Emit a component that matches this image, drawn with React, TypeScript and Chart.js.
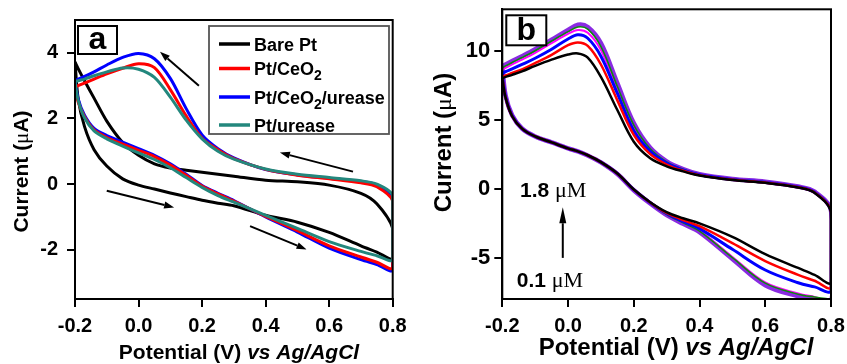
import React, { useEffect, useRef } from "react";
import { Chart, registerables } from "chart.js";

Chart.register(...registerables);

// ---------- Panel (a) data ----------
const potentialA = [-0.2, -0.19, -0.17, -0.14, -0.1, -0.05, 0, 0.05, 0.1, 0.15, 0.2, 0.25, 0.3, 0.4, 0.5, 0.6, 0.7, 0.75, 0.8];
const barePtForward = [3.72, 2.6, 1.75, 1.05, 0.55, 0.16, -0.03, -0.15, -0.27, -0.38, -0.49, -0.58, -0.66, -0.95, -1.16, -1.47, -1.88, -2.07, -2.27];
const barePtReverse = [3.72, 3.52, 3.15, 2.62, 1.92, 1.27, 0.88, 0.62, 0.49, 0.42, 0.36, 0.3, 0.24, 0.12, 0.07, -0.03, -0.28, -0.6, -1.35];
const ceo2Forward = [2.95, 2.5, 2.05, 1.65, 1.42, 1.22, 1.03, 0.84, 0.58, 0.27, -0.06, -0.3, -0.52, -0.98, -1.42, -1.88, -2.22, -2.38, -2.55];
const ceo2Reverse = [2.95, 3.0, 3.08, 3.2, 3.36, 3.53, 3.67, 3.55, 2.88, 2.08, 1.4, 1.05, 0.78, 0.45, 0.27, 0.16, 0.04, -0.08, -0.52];
const ceo2UreaseForward = [3.15, 2.6, 2.1, 1.7, 1.48, 1.28, 1.08, 0.88, 0.62, 0.3, -0.04, -0.28, -0.5, -1.0, -1.46, -1.95, -2.3, -2.45, -2.62];
const ceo2UreaseReverse = [3.15, 3.2, 3.28, 3.42, 3.63, 3.86, 3.98, 3.82, 3.22, 2.3, 1.5, 1.08, 0.8, 0.44, 0.28, 0.18, 0.08, -0.03, -0.5];
const ureaseForward = [3.12, 2.55, 2.02, 1.62, 1.38, 1.16, 0.95, 0.75, 0.5, 0.2, -0.1, -0.35, -0.55, -0.95, -1.35, -1.75, -2.05, -2.18, -2.3];
const ureaseReverse = [3.12, 3.15, 3.2, 3.3, 3.42, 3.54, 3.5, 3.25, 2.65, 1.95, 1.38, 1.0, 0.76, 0.46, 0.3, 0.2, 0.1, 0.0, -0.35];
const legendLabelsA = ["Bare Pt", "Pt/CeO_2", "Pt/CeO_2/urease", "Pt/urease"];
const colorsA = ["#000000", "#ff0000", "#0000ff", "#23877d"];
// arrows: [tailX, tailY, headX, headY] in data units
const arrowsA = [
  [0.19, 3.0, 0.0675, 4.03],
  [0.675, 0.38, 0.445, 0.96],
  [-0.1, -0.2, 0.112, -0.71],
  [0.351, -1.28, 0.529, -1.99],
];

// ---------- Panel (b) data ----------
const potentialB = [-0.2, -0.19, -0.17, -0.14, -0.1, -0.05, 0, 0.03, 0.06, 0.1, 0.15, 0.2, 0.25, 0.3, 0.35, 0.4, 0.5, 0.6, 0.7, 0.75, 0.8];
const c01Forward = [8.0, 6.6, 5.25, 4.35, 3.78, 3.35, 2.92, 2.7, 2.42, 1.92, 1.1, -0.06, -0.98, -1.7, -2.15, -2.52, -3.5, -4.75, -5.75, -6.25, -6.8];
const c01Reverse = [8.0, 8.1, 8.25, 8.5, 8.9, 9.35, 9.72, 9.8, 9.5, 8.1, 5.7, 3.4, 2.2, 1.62, 1.25, 0.95, 0.62, 0.42, 0.08, -0.3, -1.72];
const c02Forward = [8.1, 6.6, 5.25, 4.35, 3.78, 3.35, 2.92, 2.7, 2.42, 1.92, 1.1, -0.07, -1.0, -1.76, -2.28, -2.72, -3.95, -5.25, -6.25, -6.68, -7.15];
const c02Reverse = [8.1, 8.2, 8.38, 8.65, 9.1, 9.7, 10.4, 10.6, 10.35, 9.0, 6.4, 3.9, 2.5, 1.75, 1.3, 0.98, 0.64, 0.44, 0.1, -0.28, -1.68];
const c03Forward = [8.35, 6.65, 5.28, 4.35, 3.78, 3.35, 2.92, 2.7, 2.42, 1.92, 1.1, -0.08, -1.02, -1.8, -2.38, -2.9, -4.4, -5.9, -6.82, -7.12, -7.4];
const c03Reverse = [8.35, 8.48, 8.68, 9.0, 9.45, 10.1, 10.85, 11.15, 10.9, 9.6, 6.9, 4.2, 2.7, 1.85, 1.35, 1.0, 0.66, 0.46, 0.12, -0.26, -1.65];
const c04Forward = [8.6, 6.7, 5.3, 4.36, 3.78, 3.35, 2.92, 2.7, 2.42, 1.92, 1.09, -0.1, -1.04, -1.86, -2.45, -3.05, -4.95, -6.8, -7.6, -7.85, -8.1];
const c04Reverse = [8.6, 8.75, 9.0, 9.35, 9.85, 10.55, 11.22, 11.5, 11.3, 10.05, 7.2, 4.45, 2.82, 1.9, 1.38, 1.02, 0.68, 0.47, 0.13, -0.25, -1.62];
const c05Forward = [8.75, 6.7, 5.3, 4.36, 3.78, 3.35, 2.92, 2.7, 2.42, 1.92, 1.08, -0.1, -1.05, -1.88, -2.48, -3.08, -5.0, -6.85, -7.65, -7.85, -8.0];
const c05Reverse = [8.75, 8.9, 9.15, 9.5, 10.0, 10.7, 11.38, 11.72, 11.56, 10.3, 7.4, 4.6, 2.88, 1.94, 1.4, 1.03, 0.69, 0.48, 0.14, -0.24, -1.6];
const c06Forward = [8.85, 6.75, 5.32, 4.36, 3.78, 3.35, 2.92, 2.7, 2.4, 1.9, 1.06, -0.12, -1.08, -1.92, -2.55, -3.15, -5.1, -7.0, -7.8, -8.05, -8.3];
const c06Reverse = [8.85, 9.0, 9.25, 9.6, 10.1, 10.8, 11.5, 11.88, 11.72, 10.55, 7.65, 4.75, 2.96, 1.98, 1.42, 1.05, 0.7, 0.5, 0.15, -0.22, -1.6];
const colorsB = ["#000000", "#ff0000", "#0000ff", "#ff00ff", "#0b8a0b", "#8a2be2"];
const widthsB = [2.5, 2.5, 3, 2, 1.6, 4.5];
const arrowB = [-0.016, -5.02, -0.016, -1.35];
const concLabelHigh = { x: -0.146, y: -0.58, num: "1.8 ", unit: "\u03bcM" };
const concLabelLow = { x: -0.156, y: -7.1, num: "0.1 ", unit: "\u03bcM" };

const xTicks = [-0.2, 0, 0.2, 0.4, 0.6, 0.8];
const yTicksA = [-2, 0, 2, 4];
const yTicksB = [-5, 0, 5, 10];

const SANS = "'Liberation Sans', Arial, Helvetica, sans-serif";
const SERIF = "'Liberation Serif', 'Times New Roman', serif";

type Seg = { text: string; font: string; dy?: number };

function loop(pot: number[], fwd: number[], rev: number[]) {
  const pts = pot.map((x, i) => ({ x, y: fwd[i] }));
  for (let i = pot.length - 1; i >= 0; i--) pts.push({ x: pot[i], y: rev[i] });
  return pts;
}

function segWidth(ctx: CanvasRenderingContext2D, segs: Seg[]) {
  let w = 0;
  segs.forEach((s) => {
    ctx.font = s.font;
    w += ctx.measureText(s.text).width;
  });
  return w;
}

function drawSegs(ctx: CanvasRenderingContext2D, segs: Seg[], x: number, y: number, center: boolean) {
  let cx = center ? x - segWidth(ctx, segs) / 2 : x;
  ctx.textAlign = "left";
  ctx.textBaseline = "alphabetic";
  ctx.fillStyle = "#000";
  segs.forEach((s) => {
    ctx.font = s.font;
    ctx.fillText(s.text, cx, y + (s.dy || 0));
    cx += ctx.measureText(s.text).width;
  });
}

function parseSub(label: string, size: number): Seg[] {
  const parts = label.split(/_(\d)/);
  return parts
    .map((p, i) =>
      i % 2 === 1
        ? { text: p, font: `bold ${Math.round(size * 0.75)}px ${SANS}`, dy: 5 }
        : { text: p, font: `bold ${size}px ${SANS}` }
    )
    .filter((s) => s.text.length > 0);
}

function drawArrow(ctx: CanvasRenderingContext2D, x1: number, y1: number, x2: number, y2: number, lw: number, hl: number, hw: number) {
  const ang = Math.atan2(y2 - y1, x2 - x1);
  const bx = x2 - Math.cos(ang) * hl;
  const by = y2 - Math.sin(ang) * hl;
  ctx.strokeStyle = "#000";
  ctx.fillStyle = "#000";
  ctx.lineWidth = lw;
  ctx.beginPath();
  ctx.moveTo(x1, y1);
  ctx.lineTo(bx, by);
  ctx.stroke();
  ctx.beginPath();
  ctx.moveTo(x2, y2);
  ctx.lineTo(bx + Math.sin(ang) * hw, by - Math.cos(ang) * hw);
  ctx.lineTo(bx - Math.sin(ang) * hw, by + Math.cos(ang) * hw);
  ctx.closePath();
  ctx.fill();
}

function drawFrame(chart: any) {
  const { ctx, chartArea: a } = chart;
  ctx.save();
  ctx.strokeStyle = "#000";
  ctx.lineWidth = 2;
  ctx.strokeRect(a.left, a.top, a.right - a.left, a.bottom - a.top);
  ctx.restore();
}

function drawPanelLabel(ctx: CanvasRenderingContext2D, x: number, y: number, w: number, h: number, text: string) {
  ctx.save();
  ctx.fillStyle = "#fff";
  ctx.fillRect(x, y, w, h);
  ctx.strokeStyle = "#000";
  ctx.lineWidth = 2;
  ctx.strokeRect(x, y, w, h);
  ctx.fillStyle = "#000";
  ctx.font = `bold 32px ${SANS}`;
  ctx.textAlign = "center";
  ctx.textBaseline = "alphabetic";
  ctx.fillText(text, x + w / 2, y + h - 5);
  ctx.restore();
}

function drawYTitle(ctx: CanvasRenderingContext2D, cx: number, cy: number, size: number) {
  ctx.save();
  ctx.translate(cx, cy);
  ctx.rotate(-Math.PI / 2);
  drawSegs(
    ctx,
    [
      { text: "Current (", font: `bold ${size}px ${SANS}` },
      { text: "\u03bc", font: `${size}px ${SERIF}` },
      { text: "A)", font: `bold ${size}px ${SANS}` },
    ],
    0,
    0,
    true
  );
  ctx.restore();
}

function drawXTitle(ctx: CanvasRenderingContext2D, cx: number, baseline: number, size: number) {
  drawSegs(
    ctx,
    [
      { text: "Potential (V) ", font: `bold ${size}px ${SANS}` },
      { text: "vs Ag/AgCl", font: `italic bold ${size}px ${SANS}` },
    ],
    cx,
    baseline,
    true
  );
}

function scales(yMin: number, yMax: number, yTicks: number[], yWidth: number, xHeight: number, yPad: number, xFont: number, yFont: number) {
  const grid = {
    drawOnChartArea: false,
    drawTicks: true,
    tickLength: 8,
    tickWidth: 2,
    tickColor: "#000",
    color: "#000",
    lineWidth: 2,
  };
  return {
    x: {
      type: "linear" as const,
      min: -0.2,
      max: 0.8,
      afterBuildTicks: (s: any) => {
        s.ticks = xTicks.map((v) => ({ value: v }));
      },
      afterFit: (s: any) => {
        s.height = xHeight;
        s.paddingLeft = 0;
        s.paddingRight = 0;
      },
      ticks: {
        callback: (v: any) => Number(v).toFixed(1),
        font: { family: SANS, size: xFont, weight: "bold" as const },
        color: "#000",
        padding: 7,
        maxRotation: 0,
        autoSkip: false,
      },
      grid,
      border: { display: true, color: "#000", width: 2 },
    },
    y: {
      type: "linear" as const,
      min: yMin,
      max: yMax,
      afterBuildTicks: (s: any) => {
        s.ticks = yTicks.map((v) => ({ value: v }));
      },
      afterFit: (s: any) => {
        s.width = yWidth;
        s.paddingTop = 0;
        s.paddingBottom = 0;
      },
      ticks: {
        callback: (v: any) => String(v),
        font: { family: SANS, size: yFont, weight: "bold" as const },
        color: "#000",
        padding: yPad,
        autoSkip: false,
      },
      grid,
      border: { display: true, color: "#000", width: 2 },
    },
  };
}

const panelAPlugin = {
  id: "panelADecor",
  afterDraw(chart: any) {
    const { ctx, chartArea: a, scales: s } = chart;
    drawFrame(chart);
    ctx.save();
    arrowsA.forEach(([x1, y1, x2, y2]) => {
      drawArrow(ctx, s.x.getPixelForValue(x1), s.y.getPixelForValue(y1), s.x.getPixelForValue(x2), s.y.getPixelForValue(y2), 2, 10, 3.5);
    });
    drawPanelLabel(ctx, a.left + 3, a.top + 6, 39, 28, "a");
    const lx = a.left + 134;
    const ly = a.top + 6;
    ctx.fillStyle = "#fff";
    ctx.fillRect(lx, ly, 180, 108);
    ctx.strokeStyle = "#555";
    ctx.lineWidth = 1.8;
    ctx.strokeRect(lx, ly, 180, 108);
    const rowY = [18, 42.5, 71, 99];
    legendLabelsA.forEach((lab, i) => {
      const y = ly + rowY[i];
      ctx.strokeStyle = colorsA[i];
      ctx.lineWidth = 3.5;
      ctx.beginPath();
      ctx.moveTo(lx + 10, y);
      ctx.lineTo(lx + 41, y);
      ctx.stroke();
      drawSegs(ctx, parseSub(lab, 18), lx + 45, y + 6.5, false);
    });
    drawYTitle(ctx, 28, 171.5, 21);
    drawXTitle(ctx, 239, 359, 21);
    ctx.restore();
  },
};

const panelBPlugin = {
  id: "panelBDecor",
  afterDraw(chart: any) {
    const { ctx, chartArea: a, scales: s } = chart;
    drawFrame(chart);
    ctx.save();
    drawPanelLabel(ctx, a.left + 4, a.top + 6, 40, 30, "b");
    const [x1, y1, x2, y2] = arrowB;
    drawArrow(ctx, s.x.getPixelForValue(x1), s.y.getPixelForValue(y1), s.x.getPixelForValue(x2), s.y.getPixelForValue(y2), 2, 16, 3.5);
    [concLabelHigh, concLabelLow].forEach((c) => {
      drawSegs(
        ctx,
        [
          { text: c.num, font: `bold 21px ${SANS}` },
          { text: c.unit, font: `22px ${SERIF}` },
        ],
        s.x.getPixelForValue(c.x),
        s.y.getPixelForValue(c.y),
        false
      );
    });
    drawYTitle(ctx, 31, 142.5, 24);
    drawXTitle(ctx, 256, 355, 24);
    ctx.restore();
  },
};

function PanelA() {
  const ref = useRef<HTMLCanvasElement>(null);
  useEffect(() => {
    const fwd = [barePtForward, ceo2Forward, ceo2UreaseForward, ureaseForward];
    const rev = [barePtReverse, ceo2Reverse, ceo2UreaseReverse, ureaseReverse];
    const orders = [3, 1, 2, 0];
    const chart = new Chart(ref.current!, {
      type: "scatter",
      data: {
        datasets: legendLabelsA.map((lab, i) => ({
          label: lab.replace(/_/g, ""),
          data: loop(potentialA, fwd[i], rev[i]),
          showLine: true,
          borderColor: colorsA[i],
          backgroundColor: colorsA[i],
          borderWidth: 3,
          pointRadius: 0,
          tension: 0.3,
          order: orders[i],
        })),
      },
      options: {
        animation: false,
        responsive: false,
        events: [],
        layout: { padding: { left: 0, top: 20, right: 27.3, bottom: 0 } },
        plugins: { legend: { display: false }, tooltip: { enabled: false } },
        scales: scales(-3.5, 5, yTicksA, 75, 65, 9, 20, 20) as any,
      },
      plugins: [panelAPlugin],
    });
    return () => chart.destroy();
  }, []);
  return <canvas ref={ref} width={420} height={364} style={{ position: "absolute", left: 0, top: 0, width: 420, height: 364 }} />;
}

function PanelB() {
  const ref = useRef<HTMLCanvasElement>(null);
  useEffect(() => {
    const fwd = [c01Forward, c02Forward, c03Forward, c04Forward, c05Forward, c06Forward];
    const rev = [c01Reverse, c02Reverse, c03Reverse, c04Reverse, c05Reverse, c06Reverse];
    const orders = [0, 1, 2, 4, 3, 5];
    const chart = new Chart(ref.current!, {
      type: "scatter",
      data: {
        datasets: fwd.map((f, i) => ({
          label: `c${i + 1}`,
          data: loop(potentialB, f, rev[i]),
          showLine: true,
          borderColor: colorsB[i],
          backgroundColor: colorsB[i],
          borderWidth: widthsB[i],
          pointRadius: 0,
          tension: 0.35,
          order: orders[i],
        })),
      },
      options: {
        animation: false,
        responsive: false,
        events: [],
        layout: { padding: { left: 0, top: 9.3, right: 16, bottom: 0 } },
        plugins: { legend: { display: false }, tooltip: { enabled: false } },
        scales: scales(-8, 13, yTicksB, 82.3, 65, 4, 20, 22) as any,
      },
      plugins: [panelBPlugin],
    });
    return () => chart.destroy();
  }, []);
  return <canvas ref={ref} width={427} height={364} style={{ position: "absolute", left: 420, top: 0, width: 427, height: 364 }} />;
}

export default function App() {
  return (
    <div style={{ position: "fixed", left: 0, top: 0, width: 847, height: 364, background: "#fff", overflow: "hidden" }}>
      <PanelA />
      <PanelB />
    </div>
  );
}
